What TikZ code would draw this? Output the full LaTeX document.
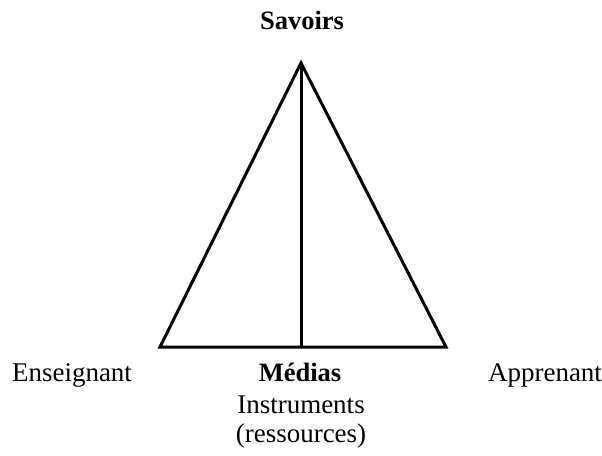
\documentclass[tikz,border=0pt]{standalone}
\usepackage{fontspec}
\setmainfont{Liberation Serif}
\begin{document}
\begin{tikzpicture}[x=1pt,y=-1pt,
  lbl/.style={anchor=base,inner sep=0pt,font=\fontsize{27}{30}\selectfont},
  blbl/.style={lbl,font=\fontsize{26.5}{30}\selectfont\bfseries},
  edge/.style={line width=3pt,line join=miter,line cap=round}]
\useasboundingbox (0,0) rectangle (602,455);
\coordinate (S) at (301,63);
\coordinate (E) at (160,347);
\coordinate (A) at (446,347);
\coordinate (M) at (301,347);
\draw[edge] (S) -- (E) -- (A) -- cycle;
\draw[edge] (S) -- (M);
\node[blbl] (sav) at (302,29) {Savoirs};
\node[lbl] (ens) at (72,381) {Enseignant};
\node[blbl] (med) at (300,381) {Médias};
\node[lbl] (ins) at (301,413) {Instruments};
\node[lbl] (res) at (301,442) {(ressources)};
\node[lbl] (app) at (545,381) {Apprenant};
\end{tikzpicture}
\end{document}
